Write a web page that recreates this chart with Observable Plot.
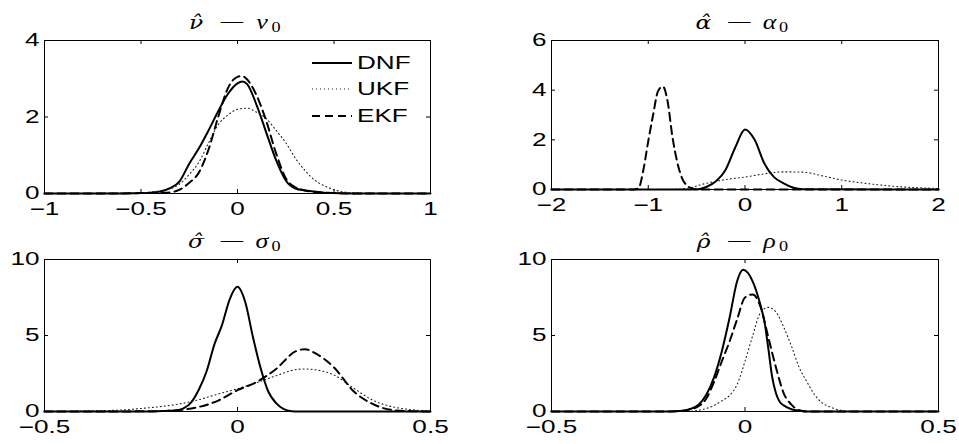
<!DOCTYPE html>
<html><head><meta charset="utf-8">
<script src="https://cdn.jsdelivr.net/npm/d3@7"></script>
<script src="https://cdn.jsdelivr.net/npm/@observablehq/plot@0.6"></script>
<style>
html,body{margin:0;padding:0;background:#fff;}
#chart{position:relative;width:959px;height:444px;overflow:hidden;background:#fff;}
#chart svg{position:absolute;left:0;top:0;}
</style></head><body><div id="chart"></div>
<script>
// ---------- data ----------
const seriesNames = ["DNF", "UKF", "EKF"];
const titleSymbols = ["ν", "α", "σ", "ρ"];

// panel 1: nu
const nuDNFx = [-1, -0.6, -0.5, -0.45, -0.4, -0.35, -0.3, -0.25, -0.2, -0.15, -0.1, -0.05, 0, 0.025, 0.05, 0.1, 0.15, 0.2, 0.25, 0.3, 0.35, 0.4, 0.45, 0.5, 0.6, 1];
const nuDNFy = [0, 0, 0.01, 0.02, 0.05, 0.14, 0.32, 0.78, 1.18, 1.65, 2.15, 2.6, 2.88, 2.93, 2.86, 2.3, 1.58, 0.87, 0.34, 0.13, 0.08, 0.05, 0.02, 0.01, 0, 0];
const nuUKFx = [-1, -0.8, -0.7, -0.6, -0.5, -0.45, -0.4, -0.35, -0.3, -0.25, -0.2, -0.15, -0.1, -0.05, 0, 0.05, 0.1, 0.15, 0.2, 0.25, 0.3, 0.35, 0.4, 0.45, 0.5, 0.55, 0.6, 0.7, 0.8, 1];
const nuUKFy = [0, 0, 0.01, 0.01, 0.02, 0.04, 0.07, 0.12, 0.25, 0.5, 0.82, 1.32, 1.8, 2.05, 2.2, 2.23, 2.12, 1.95, 1.65, 1.33, 0.92, 0.6, 0.35, 0.2, 0.1, 0.04, 0.02, 0.01, 0, 0];
const nuEKFx = [-1, -0.6, -0.5, -0.45, -0.4, -0.35, -0.3, -0.25, -0.2, -0.15, -0.1, -0.05, 0, 0.025, 0.05, 0.1, 0.15, 0.2, 0.25, 0.3, 0.35, 0.4, 0.45, 0.5, 0.6, 1];
const nuEKFy = [0, 0, 0.01, 0.01, 0.02, 0.03, 0.1, 0.28, 0.55, 1.15, 2.0, 2.75, 3.05, 3.07, 2.98, 2.55, 1.88, 1.05, 0.4, 0.16, 0.08, 0.04, 0.02, 0.01, 0, 0];
const nuXTicks = [-1, -0.5, 0, 0.5, 1];
const nuYTicks = [0, 2, 4];

// panel 2: alpha
const alphaDNFx = [-2, -0.5, -0.4, -0.3, -0.2, -0.1, 0, 0.1, 0.2, 0.3, 0.4, 0.5, 0.6, 2];
const alphaDNFy = [0, 0, 0.1, 0.33, 0.8, 1.7, 2.42, 2.0, 1.05, 0.5, 0.25, 0.07, 0.01, 0];
const alphaUKFx = [-2, -0.8, -0.6, -0.4, -0.2, 0, 0.2, 0.4, 0.6, 0.8, 1.0, 1.2, 1.4, 1.6, 1.8, 2];
const alphaUKFy = [0, 0, 0.05, 0.25, 0.4, 0.5, 0.63, 0.71, 0.7, 0.55, 0.38, 0.27, 0.18, 0.11, 0.07, 0.04];
const alphaEKFx = [-2, -1.15, -1.1, -1.05, -1.0, -0.95, -0.9, -0.85, -0.8, -0.75, -0.7, -0.65, -0.6, -0.55, -0.5, -0.4, 2];
const alphaEKFy = [0, 0, 0.05, 0.8, 1.95, 3.0, 3.95, 4.15, 3.55, 2.12, 1.1, 0.45, 0.16, 0.05, 0.01, 0, 0];
const alphaXTicks = [-2, -1, 0, 1, 2];
const alphaYTicks = [0, 2, 4, 6];

// panel 3: sigma
const sigmaDNFx = [-0.5, -0.22, -0.18, -0.16, -0.14, -0.12, -0.1, -0.08, -0.06, -0.04, -0.02, 0, 0.02, 0.04, 0.06, 0.08, 0.1, 0.12, 0.14, 0.16, 0.5];
const sigmaDNFy = [0, 0, 0.05, 0.07, 0.2, 0.6, 1.45, 2.65, 4.4, 5.7, 7.4, 8.2, 7.2, 4.9, 2.85, 1.3, 0.55, 0.15, 0.02, 0, 0];
const sigmaUKFx = [-0.5, -0.4, -0.3, -0.25, -0.2, -0.15, -0.1, -0.05, 0, 0.05, 0.1, 0.15, 0.175, 0.2, 0.25, 0.3, 0.35, 0.4, 0.45, 0.5];
const sigmaUKFy = [0.01, 0.03, 0.1, 0.2, 0.32, 0.5, 0.78, 1.15, 1.5, 1.9, 2.35, 2.75, 2.8, 2.75, 2.4, 1.55, 0.75, 0.32, 0.12, 0.04];
const sigmaEKFx = [-0.5, -0.25, -0.2, -0.15, -0.1, -0.05, 0, 0.05, 0.1, 0.15, 0.175, 0.2, 0.25, 0.3, 0.35, 0.4, 0.45, 0.5];
const sigmaEKFy = [0, 0.01, 0.03, 0.1, 0.3, 0.72, 1.4, 1.95, 2.8, 3.95, 4.1, 3.85, 2.9, 1.35, 0.5, 0.1, 0.02, 0];
const sigmaXTicks = [-0.5, 0, 0.5];
const sigmaYTicks = [0, 5, 10];

// panel 4: rho
const rhoDNFx = [-0.5, -0.2, -0.16, -0.14, -0.12, -0.1, -0.08, -0.06, -0.04, -0.02, -0.005, 0.02, 0.04, 0.05, 0.06, 0.07, 0.08, 0.09, 0.1, 0.12, 0.14, 0.16, 0.5];
const rhoDNFy = [0, 0, 0.05, 0.18, 0.45, 1.1, 2.25, 3.95, 6.15, 8.6, 9.32, 8.55, 7.0, 5.95, 4.2, 2.3, 1.2, 0.62, 0.4, 0.15, 0.05, 0, 0];
const rhoUKFx = [-0.5, -0.16, -0.12, -0.1, -0.08, -0.06, -0.04, -0.02, 0, 0.02, 0.04, 0.06, 0.08, 0.1, 0.12, 0.14, 0.16, 0.18, 0.2, 0.22, 0.24, 0.28, 0.5];
const rhoUKFy = [0, 0, 0.08, 0.2, 0.4, 0.7, 1.05, 1.8, 3.3, 5.0, 6.5, 6.85, 6.55, 5.55, 4.3, 2.9, 1.95, 1.1, 0.55, 0.3, 0.12, 0, 0];
const rhoEKFx = [-0.5, -0.2, -0.16, -0.14, -0.12, -0.1, -0.08, -0.06, -0.04, -0.02, 0, 0.02, 0.04, 0.06, 0.08, 0.1, 0.12, 0.14, 0.16, 0.5];
const rhoEKFy = [0, 0, 0.05, 0.15, 0.35, 0.85, 1.95, 3.3, 4.6, 6.1, 7.5, 7.7, 6.9, 4.9, 2.9, 1.2, 0.45, 0.08, 0, 0];
const rhoXTicks = [-0.5, 0, 0.5];
const rhoYTicks = [0, 5, 10];

// ---------- layout / style ----------
const W = 959, H = 444, STRETCH = 1.45;
const styles = {
  DNF: {stroke: "#000", strokeWidth: 2},
  UKF: {stroke: "#222", strokeWidth: 1.1, strokeDasharray: "1,3"},
  EKF: {stroke: "#000", strokeWidth: 2, strokeDasharray: "8,5"}
};
const panels = [
  {sym: titleSymbols[0], L: 44, R: 430, T: 40, B: 193, xt: nuXTicks, yt: nuYTicks,
   s: [[nuDNFx, nuDNFy], [nuUKFx, nuUKFy], [nuEKFx, nuEKFy]]},
  {sym: titleSymbols[1], L: 551, R: 938, T: 40, B: 189, xt: alphaXTicks, yt: alphaYTicks,
   s: [[alphaDNFx, alphaDNFy], [alphaUKFx, alphaUKFy], [alphaEKFx, alphaEKFy]]},
  {sym: titleSymbols[2], L: 44, R: 430, T: 259, B: 411, xt: sigmaXTicks, yt: sigmaYTicks,
   s: [[sigmaDNFx, sigmaDNFy], [sigmaUKFx, sigmaUKFy], [sigmaEKFx, sigmaEKFy]]},
  {sym: titleSymbols[3], L: 551, R: 938, T: 259, B: 411, xt: rhoXTicks, yt: rhoYTicks,
   s: [[rhoDNFx, rhoDNFy], [rhoUKFx, rhoUKFy], [rhoEKFx, rhoEKFy]]}
];
const fmt = d => d < 0 ? "\u2212" + Math.abs(d) : String(d);
const chart = document.getElementById("chart");

for (const p of panels) {
  const fw = p.R - p.L, fh = p.B - p.T, tk = 4;
  const marks = [];
  p.s.forEach(([xs, ys], i) => {
    const data = xs.map((x, j) => ({x, y: ys[j]}));
    marks.push(Plot.line(data, {x: "x", y: "y", curve: "monotone-x", ...styles[seriesNames[i]]}));
  });
  marks.push(
    Plot.ruleX(p.xt, {stroke: "#000", insetTop: fh - tk}),
    Plot.ruleX(p.xt, {stroke: "#000", insetBottom: fh - tk}),
    Plot.ruleY(p.yt, {stroke: "#000", insetRight: fw - tk}),
    Plot.ruleY(p.yt, {stroke: "#000", insetLeft: fw - tk}),
    Plot.axisX({ticks: p.xt, tickSize: 0, tickPadding: 9, tickFormat: fmt, label: null}),
    Plot.axisY({ticks: p.yt, tickSize: 0, tickPadding: 5, tickFormat: fmt, label: null}),
    Plot.frame({stroke: "#000", strokeWidth: 1})
  );
  const svg = Plot.plot({
    width: W, height: H,
    marginLeft: p.L, marginRight: W - p.R, marginTop: p.T, marginBottom: H - p.B,
    x: {domain: [p.xt[0], p.xt[p.xt.length - 1]]},
    y: {domain: [0, p.yt[p.yt.length - 1]]},
    style: {fontFamily: "'Liberation Sans', Arial, sans-serif", fontSize: "18px", color: "#000", background: "transparent", overflow: "visible"},
    marks
  });
  chart.appendChild(svg);
  svg.querySelectorAll("text").forEach(t => {
    const w = t.getComputedTextLength();
    if (w > 0) {
      t.setAttribute("textLength", (w * STRETCH).toFixed(2));
      t.setAttribute("lengthAdjust", "spacingAndGlyphs");
    }
  });
}

// ---------- titles and legend ----------
const over = d3.select(chart).append("svg").attr("width", W).attr("height", H);
const serif = "'Liberation Serif', 'DejaVu Serif', serif";
const SX = 1.3;
for (const p of panels) {
  const t = over.append("text")
    .attr("transform", `translate(${(p.L + p.R) / 2 - 1},${p.T - 11.5}) scale(${SX},1)`)
    .attr("text-anchor", "middle").attr("font-family", serif)
    .attr("font-size", 20).attr("fill", "#000");
  const span = (txt, x, y, o = {}) => {
    const s = t.append("tspan").attr("x", x / SX).attr("y", y)
      .attr("font-style", o.it ? "italic" : "normal").text(txt);
    if (o.fs) s.attr("font-size", o.fs);
    if (o.ff) s.attr("font-family", o.ff);
    return s;
  };
  span(p.sym + "\u0302", -40, 0, {it: true, ff: "'DejaVu Serif', serif", fs: 18});
  const m = span("\u2212", -4, 0);
  span(p.sym, 26, 0, {it: true});
  span("0", 40, 3.5, {fs: 14});
  m.attr("textLength", 21).attr("lengthAdjust", "spacingAndGlyphs");
}
const lg = over.append("g");
const legendY = [63, 89, 116];
seriesNames.forEach((name, i) => {
  const st = styles[name];
  lg.append("line").attr("x1", 312).attr("x2", 352).attr("y1", legendY[i]).attr("y2", legendY[i])
    .attr("stroke", st.stroke).attr("stroke-width", st.strokeWidth)
    .attr("stroke-dasharray", st.strokeDasharray || null);
  lg.append("text").attr("transform", `translate(357,${legendY[i]}) scale(${STRETCH},1)`)
    .attr("dy", "0.36em").attr("font-family", "'Liberation Sans', Arial, sans-serif")
    .attr("font-size", 18).attr("fill", "#000").text(name);
});
</script></body></html>
